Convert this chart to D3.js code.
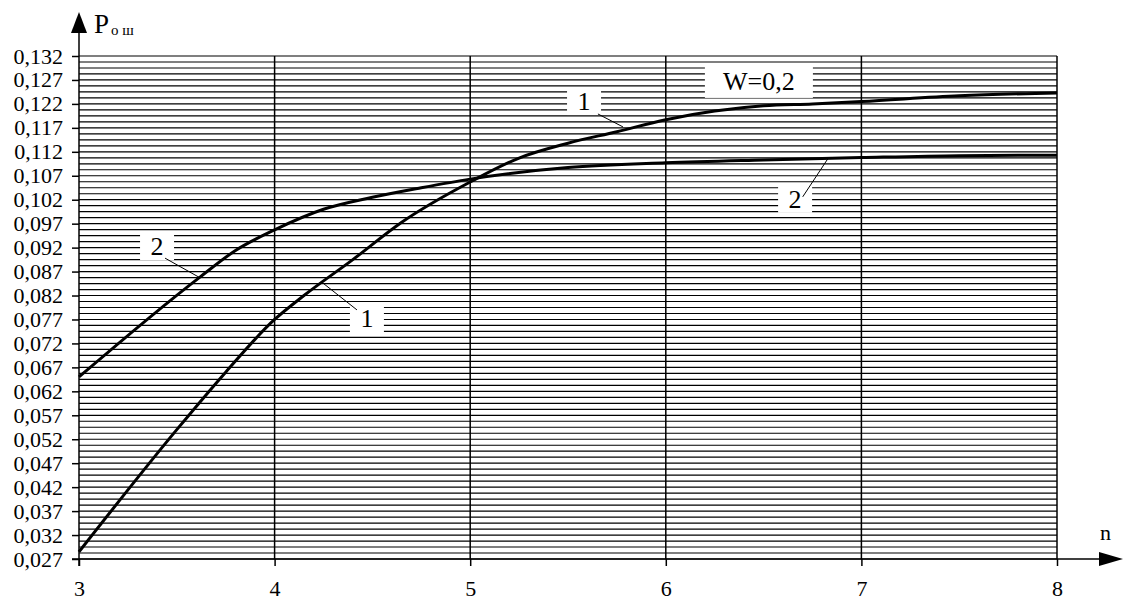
<!DOCTYPE html>
<html>
<head>
<meta charset="utf-8">
<script src="https://cdn.jsdelivr.net/npm/d3@7"></script>
<style>
  body { margin: 0; background: #fff; }
  svg { display: block; }
  text { font-family: 'Liberation Serif', 'Times New Roman', serif; fill: #000; }
</style>
</head>
<body>
<svg id="chart" width="1126" height="601"></svg>
<script>
// x: n, y: P о ш  (W = 0,2)
const nTicks = [3, 4, 5, 6, 7, 8];
const pTicks = d3.range(0, 22).map((i) => +(0.027 + i * 0.005).toFixed(3));
const pGrid = d3.range(0, 85).map((i) => 0.027 + i * 0.00125);

const curve1N = [3, 3.5, 3.75, 4, 4.15, 4.4, 4.65, 5, 5.25, 5.5, 5.75, 6, 6.25, 6.5, 6.75, 7, 7.5, 8];
const curve1P = [0.0285, 0.054, 0.066, 0.077, 0.082, 0.0895, 0.0973, 0.1057, 0.1107, 0.1138, 0.1162, 0.1187, 0.1205, 0.1216, 0.122, 0.1225, 0.1237, 0.1243];
const curve2N = [3, 3.62, 3.8, 4, 4.25, 4.5, 4.75, 5, 5.5, 6, 6.5, 7, 7.5, 8];
const curve2P = [0.065, 0.0859, 0.0914, 0.0957, 0.1, 0.1025, 0.1045, 0.1063, 0.1087, 0.1097, 0.1103, 0.1108, 0.1112, 0.1113];

// annotation labels: text, centre (n, p), leader from/to
const labelText = ['1', '2', '1', '2'];
const labelAt = [[5.582, 0.1226], [3.399, 0.0923], [4.472, 0.0773], [6.661, 0.1022]];
const leaderFrom = [[5.653, 0.1199], [3.44, 0.0898], [4.421, 0.079], [6.70, 0.1026]];
const leaderTo = [[5.781, 0.1172], [3.619, 0.0857], [4.247, 0.0846], [6.834, 0.1109]];
const titleText = 'W=0,2';
const titleAt = [6.476, 0.1268];

const svg = d3.select('#chart');
const x = d3.scaleLinear().domain([3, 8]).range([79, 1057]);
const y = d3.scaleLinear().domain([0.027, 0.132]).range([559, 56]);
const fmt = (v) => d3.format('.3f')(v).replace('.', ',');

// horizontal grid
svg.append('g')
  .selectAll('line')
  .data(pGrid)
  .join('line')
  .attr('x1', x(3))
  .attr('x2', x(8))
  .attr('y1', (d) => y(d))
  .attr('y2', (d) => y(d))
  .attr('stroke', '#000')
  .attr('stroke-width', 1.2);

// vertical grid
svg.append('g')
  .selectAll('line')
  .data(nTicks.slice(1))
  .join('line')
  .attr('x1', (d) => x(d))
  .attr('x2', (d) => x(d))
  .attr('y1', y(0.132))
  .attr('y2', y(0.027))
  .attr('stroke', '#000')
  .attr('stroke-width', 1.5);

// axes
const yAxis = svg.append('g')
  .attr('transform', `translate(${x(3)},0)`)
  .call(d3.axisLeft(y).tickValues(pTicks).tickFormat(fmt).tickSize(7).tickPadding(9).tickSizeOuter(0));
const xAxis = svg.append('g')
  .attr('transform', `translate(0,${y(0.027)})`)
  .call(d3.axisBottom(x).tickValues(nTicks).tickFormat(d3.format('d')).tickSize(7).tickPadding(14).tickSizeOuter(0));
[yAxis, xAxis].forEach((ax) => {
  ax.attr('font-family', null);
  ax.select('.domain').remove();
  ax.selectAll('.tick line').attr('stroke', '#000').attr('stroke-width', 1.5);
  ax.selectAll('.tick text')
    .style('font-family', "'Liberation Serif', 'Times New Roman', serif")
    .attr('font-size', 22)
    .attr('fill', '#000');
});

// axis lines with arrows
svg.append('line')
  .attr('x1', x(3)).attr('x2', x(3))
  .attr('y1', y(0.027) + 7).attr('y2', 30)
  .attr('stroke', '#000').attr('stroke-width', 1.5);
svg.append('path')
  .attr('d', `M${x(3) - 8},33 L${x(3)},12 L${x(3) + 8},33 Z`)
  .attr('fill', '#000');
svg.append('line')
  .attr('x1', x(3) - 7).attr('x2', 1102)
  .attr('y1', y(0.027)).attr('y2', y(0.027))
  .attr('stroke', '#000').attr('stroke-width', 1.5);
svg.append('path')
  .attr('d', `M1099,${y(0.027) - 7} L1123,${y(0.027)} L1099,${y(0.027) + 7} Z`)
  .attr('fill', '#000');

// axis titles
const pTitle = svg.append('text').attr('x', 94).attr('y', 33).attr('font-size', 27);
pTitle.append('tspan').text('P');
pTitle.append('tspan').attr('font-size', 15).attr('dx', 2).attr('dy', 2).text('о ш');
svg.append('text').attr('x', 1100).attr('y', 540).attr('font-size', 22).text('n');

// white boxes behind labels
const boxes = svg.append('g');
boxes.append('rect')
  .attr('x', x(titleAt[0]) - 54).attr('y', y(titleAt[1]) - 16)
  .attr('width', 108).attr('height', 33).attr('fill', '#fff');
boxes.selectAll('.lblbox')
  .data(labelAt)
  .join('rect')
  .attr('class', 'lblbox')
  .attr('x', (d) => x(d[0]) - 17)
  .attr('y', (d) => y(d[1]) - 13)
  .attr('width', 34).attr('height', 27)
  .attr('fill', '#fff');

// leaders
svg.append('g')
  .selectAll('line')
  .data(d3.range(labelText.length))
  .join('line')
  .attr('x1', (i) => x(leaderFrom[i][0]))
  .attr('y1', (i) => y(leaderFrom[i][1]))
  .attr('x2', (i) => x(leaderTo[i][0]))
  .attr('y2', (i) => y(leaderTo[i][1]))
  .attr('stroke', '#000')
  .attr('stroke-width', 1);

// curves
const line = d3.line().x((d) => x(d[0])).y((d) => y(d[1])).curve(d3.curveMonotoneX);
[[curve1N, curve1P], [curve2N, curve2P]].forEach(([ns, ps]) => {
  svg.append('path')
    .datum(ns.map((n, i) => [n, ps[i]]))
    .attr('d', line)
    .attr('fill', 'none')
    .attr('stroke', '#000')
    .attr('stroke-width', 3);
});

// label texts
svg.append('g')
  .selectAll('text')
  .data(d3.range(labelText.length))
  .join('text')
  .attr('x', (i) => x(labelAt[i][0]))
  .attr('y', (i) => y(labelAt[i][1]) + 9)
  .attr('text-anchor', 'middle')
  .attr('font-size', 26)
  .text((i) => labelText[i]);
svg.append('text')
  .attr('x', x(titleAt[0]))
  .attr('y', y(titleAt[1]) + 9)
  .attr('text-anchor', 'middle')
  .attr('font-size', 26)
  .text(titleText);
</script>
</body>
</html>
